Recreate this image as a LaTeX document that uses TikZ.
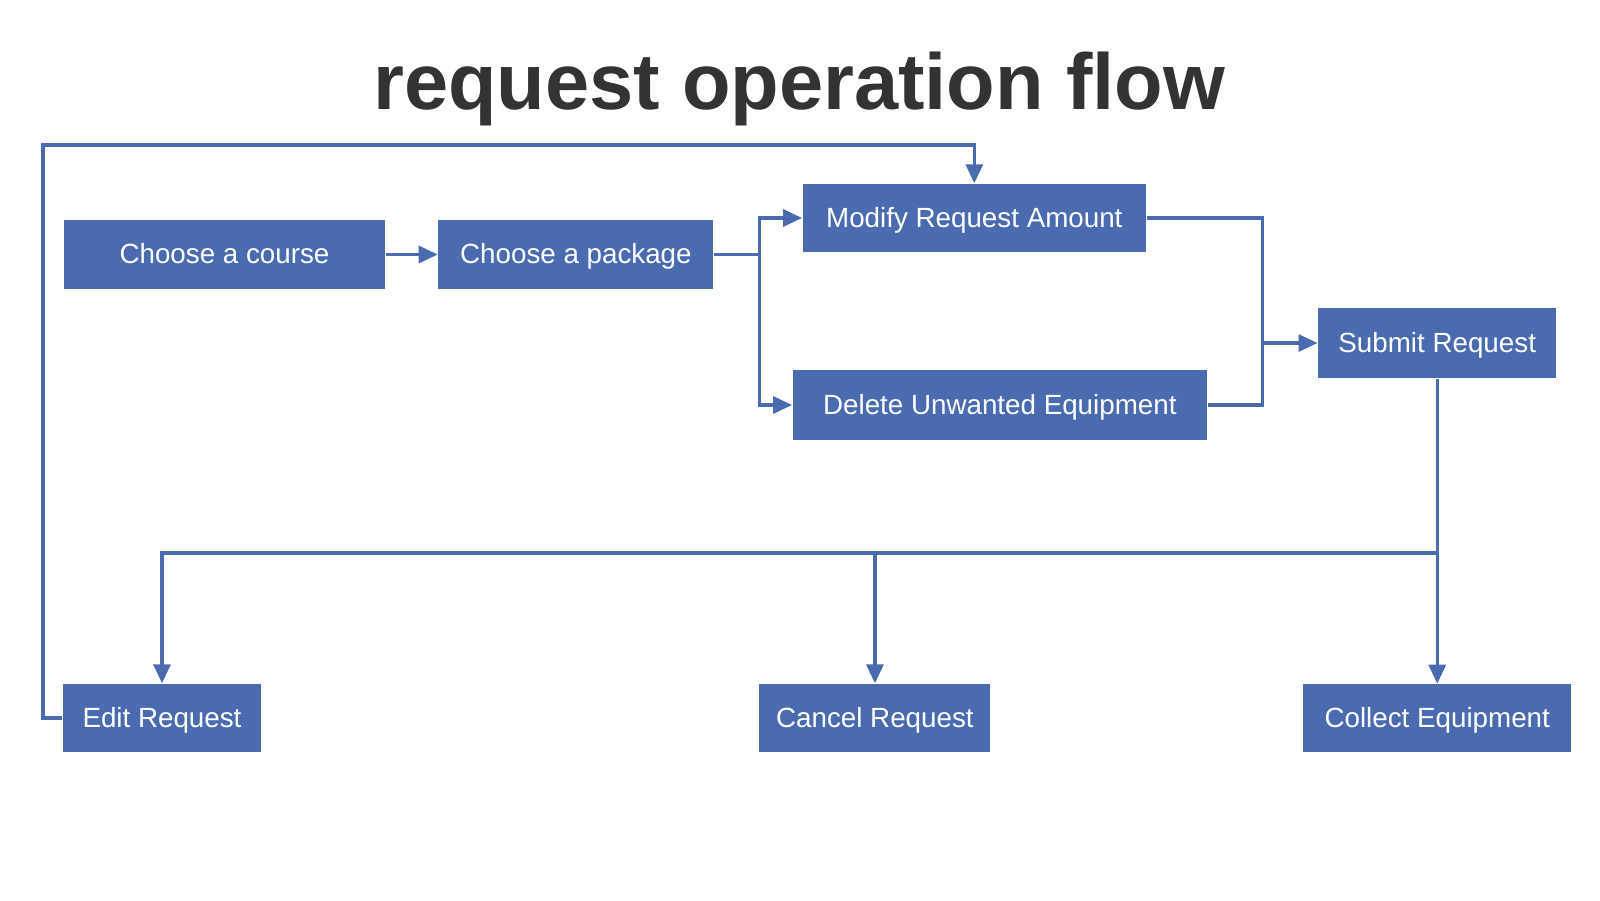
\documentclass[tikz,border=0pt]{standalone}
\usepackage{fontspec}
\setmainfont{Liberation Sans}
\usetikzlibrary{arrows.meta,positioning}
\definecolor{boxblue}{HTML}{4A6BAF}
\definecolor{titlegray}{HTML}{333333}
\begin{document}
\begin{tikzpicture}

\tikzstyle{box} = [rectangle, minimum height=0.69cm, inner sep=0pt, text centered, text height=0.72em, text depth=0.2em, fill=boxblue, text=white, font=\fontsize{7.9}{9}\selectfont]
\tikzstyle{line} = [draw=boxblue, line width=0.9pt]
\tikzstyle{flow} = [line, -{Triangle[length=0.19cm,width=0.17cm]}]
\useasboundingbox (0,0) rectangle (16,9);
\node (title) [anchor=base, text=titlegray, font=\fontsize{22.6}{27}\selectfont\bfseries] at (7.99,7.90) {request operation flow};
\node (course) [box, minimum width=3.21cm] at (2.245,6.455) {Choose a course};
\node (package) [box, minimum width=2.75cm, right=0.52cm of course] {Choose a package};
\node (modify) [box, minimum width=3.43cm, minimum height=0.68cm, right=0.88cm of package, yshift=0.365cm] {Modify Request Amount};
\node (delete) [box, minimum width=4.14cm, minimum height=0.70cm, right=0.78cm of package, yshift=-1.505cm] {Delete Unwanted Equipment};
\node (submit) [box, minimum width=2.38cm, minimum height=0.70cm, right=1.10cm of delete, yshift=0.62cm] {Submit Request};
\node (edit) [box, minimum width=1.98cm, minimum height=0.68cm] at (1.62,1.82) {Edit Request};
\node (cancel) [box, minimum width=2.31cm, minimum height=0.68cm, right=4.97cm of edit] {Cancel Request};
\node (collect) [box, minimum width=2.68cm, minimum height=0.68cm, below=3.05cm of submit] {Collect Equipment};
\coordinate (split) at ([xshift=0.45cm]package.east);
\coordinate (merge) at ([xshift=-0.55cm]submit.west);
\coordinate (bus) at (submit.south |- 0,3.47);
\coordinate (loop) at (0.43,7.55);
\draw[flow] (course) -- (package);
\draw[line] (package) -- (split);
\draw[flow] (split) |- (modify);
\draw[flow] (split) |- (delete);
\draw[line] (modify) -| (merge);
\draw[line] (delete) -| (merge);
\draw[flow] (merge) -- (submit);
\draw[flow] (submit) -- (collect);
\draw[flow] (bus) -| (edit);
\draw[flow] (bus) -| (cancel);
\draw[flow] (edit.west) -| (loop) -| (modify.north);
\end{tikzpicture}
\end{document}
